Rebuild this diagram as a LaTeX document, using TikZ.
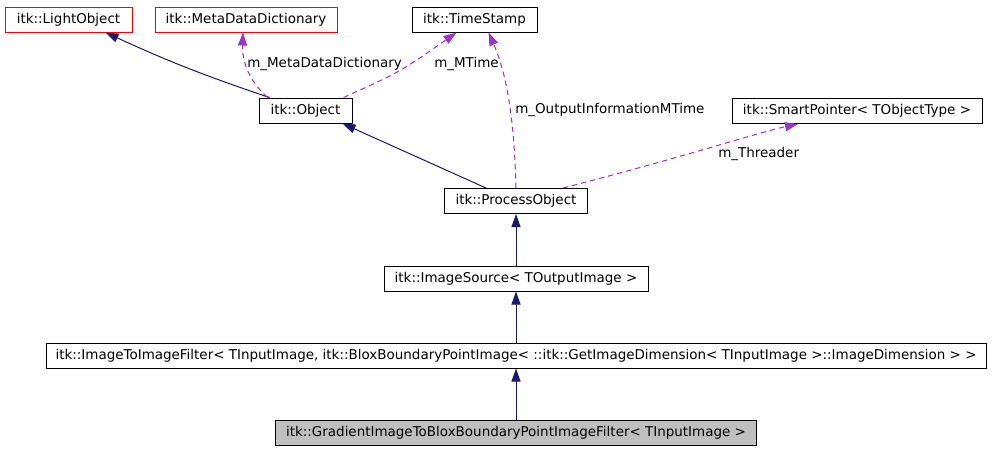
\documentclass[tikz,border=0pt]{standalone}
\usepackage{fontspec}
\setmainfont{DejaVu Sans}
\usepackage{tikz}
\usetikzlibrary{arrows.meta,positioning,calc}
\definecolor{inhblue}{HTML}{191970}
\definecolor{usepurple}{HTML}{9A32CD}

\begin{document}
\begin{tikzpicture}[x=0.75pt,y=-0.75pt,
  cls/.style={draw, line width=0.75pt, inner sep=0pt, minimum height=18.75pt,
    font=\fontsize{10.1}{11}\selectfont},
  w/.style={minimum width=#1*0.75pt},
  undoc/.style={cls, draw=red},
  lbl/.style={inner sep=0pt, anchor=west, font=\fontsize{10.1}{11}\selectfont},
  inh/.style={draw=inhblue, line width=0.75pt, -{Triangle[length=9.75pt,width=6.75pt]}},
  use/.style={draw=usepurple, line width=0.75pt, dash pattern=on 4pt off 3pt, -{Triangle[length=9.75pt,width=6.75pt]}}]
  \useasboundingbox (0,0) rectangle (992,451);
  \node[undoc, w=127] (light) at (68.5,19.5) {itk::LightObject};
  \node[undoc, w=182] (mdd) at (246,19.5) {itk::MetaDataDictionary};
  \node[cls, w=125] (ts) at (474.5,19.5) {itk::TimeStamp};
  \node[cls, w=93] (obj) at (305.5,110.5) {itk::Object};
  \node[cls, w=250] (sp) at (857,111) {itk::SmartPointer< TObjectType >};
  \node[cls, w=143] (po) at (516,201) {itk::ProcessObject};
  \node[cls, w=264] (is) at (516,278.5) {itk::ImageSource< TOutputImage >};
  \node[cls, w=940] (itif) at (516,355.5) {itk::ImageToImageFilter< TInputImage, itk::BloxBoundaryPointImage< ::itk::GetImageDimension< TInputImage >::ImageDimension > >};
  \node[cls, w=481, fill=black!25] (grad) at (516,433) {itk::GradientImageToBloxBoundaryPointImageFilter< TInputImage >};
  \node[lbl] (lmdd) at (247,64) {m\_MetaDataDictionary};
  \node[lbl] (lmt) at (434,64) {m\_MTime};
  \node[lbl] (loi) at (515,110) {m\_OutputInformationMTime};
  \node[lbl] (lthr) at (718,154) {m\_Threader};
  \draw[inh] ($(obj.north)+(-36,0)$) to[bend left=3] ($(light.south)+(37,0)$);
  \draw[use] ($(obj.north)+(-38,0)$) .. controls (248,80) and (242,60) .. ($(mdd.south)+(-3,0)$);
  \draw[use] ($(obj.north)+(38,0)$) .. controls (400,72) .. ($(ts.south)+(-18,0)$);
  \draw[inh] ($(po.north)+(-30,0)$) -- ($(obj.south)+(37,0)$);
  \draw[use] (po.north) .. controls (514,110) and (505,70) .. ($(ts.south)+(14,0)$);
  \draw[use] ($(po.north)+(47,0)$) .. controls (680,158) and (760,132) .. ($(sp.south)+(-59,0)$);
  \draw[inh] (is) -- (po);
  \draw[inh] (itif) -- (is);
  \draw[inh] (grad) -- (itif);
\end{tikzpicture}
\end{document}
